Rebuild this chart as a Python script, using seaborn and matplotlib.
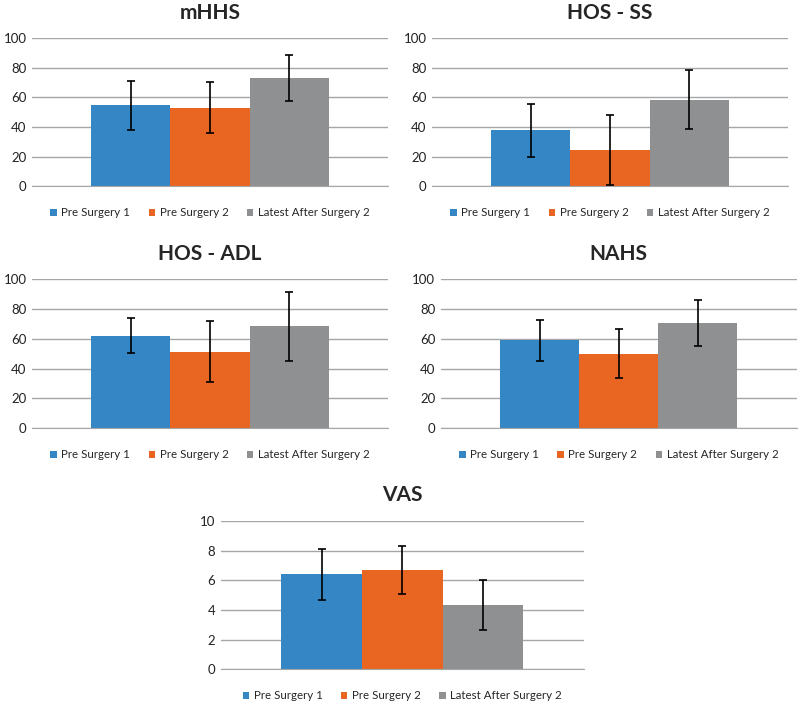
import pandas as pd
import matplotlib.pyplot as plt
import seaborn as sns

# Values (means and +/- error)
groups = ['Pre Surgery 1', 'Pre Surgery 2', 'Latest After Surgery 2']
colors = ['#3486c4', '#e86522', '#8f9091']

titles = ['mHHS', 'HOS - SS', 'HOS - ADL', 'NAHS', 'VAS']
mhhs_mean = [54.5, 53.0, 73.0]
mhhs_err = [16.5, 17.0, 15.5]
hos_ss_mean = [37.8, 24.5, 58.5]
hos_ss_err = [18.0, 23.4, 20.2]
hos_adl_mean = [62.0, 51.2, 68.3]
hos_adl_err = [11.6, 20.5, 23.0]
nahs_mean = [58.8, 50.0, 70.3]
nahs_err = [14.0, 16.5, 15.4]
vas_mean = [6.4, 6.7, 4.35]
vas_err = [1.72, 1.64, 1.70]

means = [mhhs_mean, hos_ss_mean, hos_adl_mean, nahs_mean, vas_mean]
errs = [mhhs_err, hos_ss_err, hos_adl_err, nahs_err, vas_err]
ymax = [100, 100, 100, 100, 10]
ystep = [20, 20, 20, 20, 2]

rows = []
for t, m, e in zip(titles, means, errs):
    for g, v, s in zip(groups, m, e):
        rows.append({'score': t, 'group': g, 'mean': v, 'err': s, 'x': ''})
df = pd.DataFrame(rows)

sns.set_style('white')
plt.rcParams['font.family'] = ['Lato', 'DejaVu Sans']

fig = plt.figure(figsize=(8, 7.03), dpi=100)
# axes positions (left, bottom, width, height) in figure fractions
positions = [
    [0.040, 0.735, 0.445, 0.211],
    [0.540, 0.735, 0.445, 0.211],
    [0.040, 0.391, 0.445, 0.212],
    [0.551, 0.391, 0.445, 0.212],
    [0.276, 0.048, 0.454, 0.211],
]

grid_col = '#a6a6a6'
for i, t in enumerate(titles):
    ax = fig.add_axes(positions[i])
    sub = df[df['score'] == t]
    sns.barplot(data=sub, x='x', y='mean', hue='group', hue_order=groups,
                palette=colors, errorbar=None, width=0.8, saturation=1,
                edgecolor='none', linewidth=0, ax=ax)
    # error bars at the bar centres
    for patch, (_, r) in zip(ax.patches, sub.iterrows()):
        xc = patch.get_x() + patch.get_width() / 2
        ax.errorbar(xc, r['mean'], yerr=r['err'], fmt='none', ecolor='black',
                    elinewidth=1.2, capsize=3, capthick=1.2, zorder=5)
    ax.set_xlim(-0.6, 0.6)
    ax.set_ylim(0, ymax[i])
    ax.set_yticks(range(0, ymax[i] + 1, ystep[i]))
    ax.yaxis.grid(True, color=grid_col, linewidth=1)
    ax.set_axisbelow(True)
    ax.set_xlabel('')
    ax.set_ylabel('')
    ax.set_xticks([])
    for s in ['top', 'left', 'right']:
        ax.spines[s].set_visible(False)
    ax.spines['bottom'].set_color(grid_col)
    ax.tick_params(axis='y', length=0, pad=4, labelsize=9.5, colors='#222222')
    ax.set_title(t, fontsize=15, fontweight='bold', pad=14)
    ax.legend(loc='center', bbox_to_anchor=(0.5, -0.18), ncol=3,
              frameon=False, fontsize=8.3, handlelength=0.55,
              handleheight=0.55, handletextpad=0.4, columnspacing=1.6)

fig.savefig('out.png', dpi=100)
